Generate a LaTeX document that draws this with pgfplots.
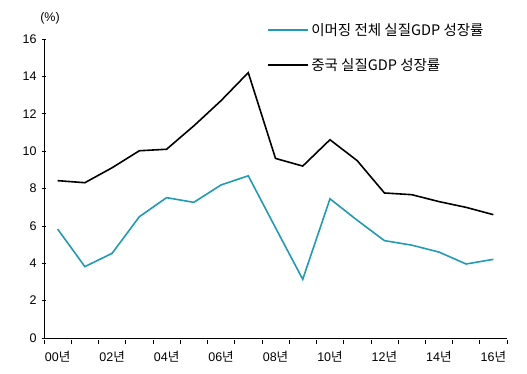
\documentclass[border=0pt]{standalone}
\usepackage{fontspec}
\setmainfont{Liberation Sans}
\newfontfamily\kr{Noto Sans CJK KR}
\usepackage{pgfplots}
\pgfplotsset{compat=1.18}
\definecolor{emcyan}{RGB}{31,155,184}
\begin{document}
\begin{tikzpicture}
\path[use as bounding box] (-44pt,-35pt) rectangle (483pt,338pt);
\begin{axis}[
  scale only axis, width=463pt, height=299pt,
  xmin=-0.5, xmax=16.5, ymin=0, ymax=16,
  axis lines=left, axis line style={-, line width=0.8pt},
  /pgf/number format/assume math mode=true,
  ytick={0,2,...,16},
  xtick={0,2,...,16},
  xticklabels={00{\kr 년},02{\kr 년},04{\kr 년},06{\kr 년},08{\kr 년},10{\kr 년},12{\kr 년},14{\kr 년},16{\kr 년}},
  major x tick style={draw=none},
  minor xtick={-0.5,0.5,...,16.5},
  minor x tick style={yshift=-4pt},
  minor tick length=4pt, major tick length=4pt,
  tick style={black, line width=0.6pt},
  tick label style={font=\fontsize{12.5}{14}\selectfont},
  yticklabel style={xshift=-2pt},
  xticklabel style={yshift=-8pt},
  legend style={at={(rel axis cs:0.482,1.06)}, anchor=north west, draw=none, fill=none, inner sep=0pt, row sep=17.5pt, font=\kr\fontsize{14.5}{16}\selectfont},
  legend cell align=left,
  legend image code/.code={\draw[line width=1.9pt] (0pt,0pt) -- (40pt,0pt);},
  clip=false,
]
\addplot[emcyan, line width=1.6pt] coordinates {
(0,5.83) (1,3.82) (2,4.53) (3,6.49) (4,7.51) (5,7.26) (6,8.19) (7,8.68) (8,5.9) (9,3.14) (10,7.45) (11,6.3) (12,5.21) (13,4.97) (14,4.6) (15,3.96) (16,4.21)};
\addlegendentry{이머징 전체 실질GDP 성장률}
\addplot[black, line width=1.6pt] coordinates {
(0,8.42) (1,8.31) (2,9.11) (3,10.02) (4,10.1) (5,11.35) (6,12.7) (7,14.2) (8,9.61) (9,9.2) (10,10.61) (11,9.49) (12,7.76) (13,7.67) (14,7.3) (15,6.99) (16,6.6)};
\addlegendentry{중국 실질GDP 성장률}
\node[font=\fontsize{12.5}{14}\selectfont] at (rel axis cs:0,1) [xshift=6pt,yshift=21pt] {(\%)};
\end{axis}
\end{tikzpicture}
\end{document}
